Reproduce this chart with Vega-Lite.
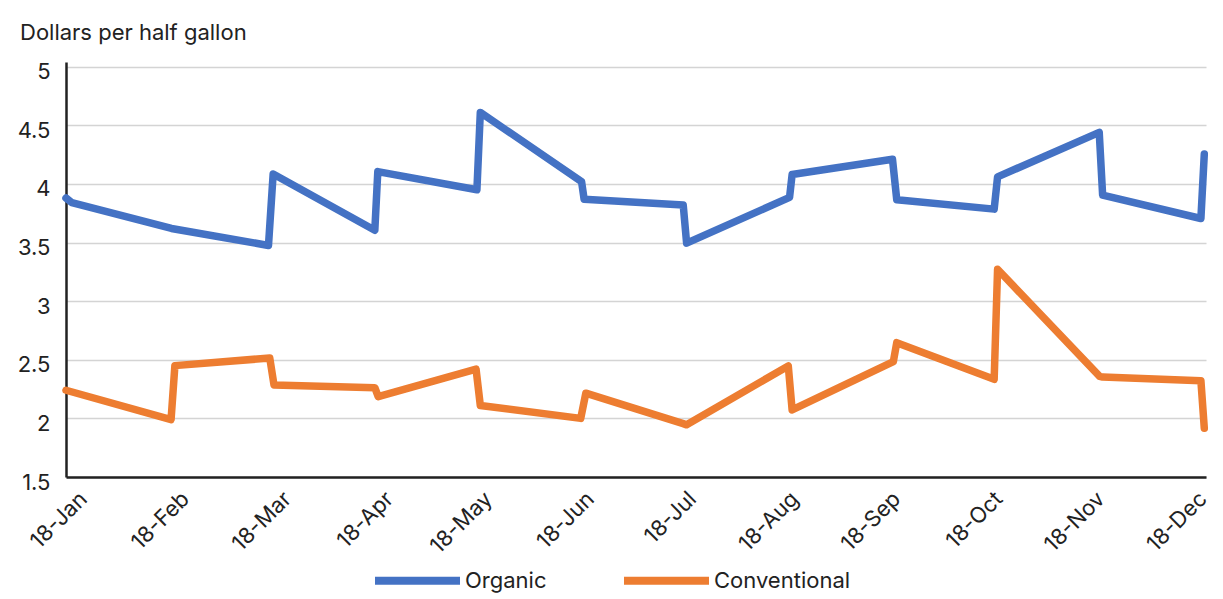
{
  "$schema": "https://vega.github.io/schema/vega-lite/v6.json",
  "width": 1140,
  "height": 415,
  "autosize": {"type": "none"},
  "padding": {"left": 66, "top": 62, "right": 17, "bottom": 122},
  "background": "white",
  "title": {
    "text": "Dollars per half gallon",
    "anchor": "start",
    "frame": "group",
    "dx": -46,
    "offset": -1,
    "baseline": "alphabetic",
    "font": "Inter",
    "fontSize": 22,
    "fontWeight": "normal",
    "color": "#222222"
  },
  "data": {
    "values": [
      {"series": "Organic", "date": "2018-01-01T00:00", "price": 3.88},
      {"series": "Organic", "date": "2018-01-02T17:00", "price": 3.84},
      {"series": "Organic", "date": "2018-02-01T00:00", "price": 3.62},
      {"series": "Organic", "date": "2018-03-01T12:00", "price": 3.475},
      {"series": "Organic", "date": "2018-03-02T21:00", "price": 4.085},
      {"series": "Organic", "date": "2018-04-01T18:00", "price": 3.605},
      {"series": "Organic", "date": "2018-04-02T15:00", "price": 4.105},
      {"series": "Organic", "date": "2018-05-01T18:00", "price": 3.95},
      {"series": "Organic", "date": "2018-05-02T18:00", "price": 4.61},
      {"series": "Organic", "date": "2018-06-01T12:00", "price": 4.02},
      {"series": "Organic", "date": "2018-06-02T06:00", "price": 3.87},
      {"series": "Organic", "date": "2018-07-01T09:00", "price": 3.82},
      {"series": "Organic", "date": "2018-07-02T09:00", "price": 3.495},
      {"series": "Organic", "date": "2018-08-01T15:00", "price": 3.885},
      {"series": "Organic", "date": "2018-08-02T09:00", "price": 4.08},
      {"series": "Organic", "date": "2018-08-31T21:00", "price": 4.21},
      {"series": "Organic", "date": "2018-09-02T03:00", "price": 3.865},
      {"series": "Organic", "date": "2018-09-30T18:00", "price": 3.785},
      {"series": "Organic", "date": "2018-10-01T18:00", "price": 4.06},
      {"series": "Organic", "date": "2018-10-31T15:00", "price": 4.44},
      {"series": "Organic", "date": "2018-11-01T15:00", "price": 3.905},
      {"series": "Organic", "date": "2018-11-30T12:00", "price": 3.705},
      {"series": "Organic", "date": "2018-12-01T12:00", "price": 4.255},
      {"series": "Conventional", "date": "2018-01-01T00:00", "price": 2.24},
      {"series": "Conventional", "date": "2018-01-31T21:00", "price": 1.99},
      {"series": "Conventional", "date": "2018-02-02T00:00", "price": 2.45},
      {"series": "Conventional", "date": "2018-03-01T21:00", "price": 2.515},
      {"series": "Conventional", "date": "2018-03-03T03:00", "price": 2.285},
      {"series": "Conventional", "date": "2018-04-01T18:00", "price": 2.262},
      {"series": "Conventional", "date": "2018-04-02T18:00", "price": 2.185},
      {"series": "Conventional", "date": "2018-05-01T12:00", "price": 2.42},
      {"series": "Conventional", "date": "2018-05-02T18:00", "price": 2.11},
      {"series": "Conventional", "date": "2018-06-01T06:00", "price": 2.0},
      {"series": "Conventional", "date": "2018-06-02T18:00", "price": 2.215},
      {"series": "Conventional", "date": "2018-07-01T09:00", "price": 1.955},
      {"series": "Conventional", "date": "2018-07-02T09:00", "price": 1.945},
      {"series": "Conventional", "date": "2018-08-01T06:00", "price": 2.447},
      {"series": "Conventional", "date": "2018-08-02T09:00", "price": 2.072},
      {"series": "Conventional", "date": "2018-09-01T03:00", "price": 2.484},
      {"series": "Conventional", "date": "2018-09-02T03:00", "price": 2.646},
      {"series": "Conventional", "date": "2018-09-30T18:00", "price": 2.333},
      {"series": "Conventional", "date": "2018-10-01T18:00", "price": 3.272},
      {"series": "Conventional", "date": "2018-10-31T18:00", "price": 2.358},
      {"series": "Conventional", "date": "2018-11-01T15:00", "price": 2.352},
      {"series": "Conventional", "date": "2018-11-30T12:00", "price": 2.322},
      {"series": "Conventional", "date": "2018-12-01T12:00", "price": 1.915}
    ]
  },
  "mark": {"type": "line", "strokeWidth": 7.5, "strokeCap": "round", "strokeJoin": "round"},
  "encoding": {
    "x": {
      "field": "date",
      "type": "temporal",
      "scale": {"domain": [{"year": 2018, "month": 1, "date": 1}, {"year": 2018, "month": 12, "date": 2}]},
      "axis": {
        "title": null,
        "values": [
          {"year": 2018, "month": 1, "date": 6},
          {"year": 2018, "month": 2, "date": 5},
          {"year": 2018, "month": 3, "date": 7},
          {"year": 2018, "month": 4, "date": 6},
          {"year": 2018, "month": 5, "date": 5},
          {"year": 2018, "month": 6, "date": 4},
          {"year": 2018, "month": 7, "date": 4},
          {"year": 2018, "month": 8, "date": 3},
          {"year": 2018, "month": 9, "date": 2},
          {"year": 2018, "month": 10, "date": 2},
          {"year": 2018, "month": 11, "date": 1},
          {"year": 2018, "month": 12, "date": 1}
        ],
        "format": "%y-%b",
        "labelAngle": -45,
        "labelAlign": "right",
        "labelBaseline": "middle",
        "labelPadding": 18,
        "labelOverlap": false,
        "labelFlush": false,
        "labelBound": false,
        "labelFont": "Inter",
        "labelFontSize": 22,
        "labelColor": "#222222",
        "ticks": false,
        "tickSize": 0,
        "grid": false,
        "domainColor": "#222222",
        "domainWidth": 2.5
      }
    },
    "y": {
      "field": "price",
      "type": "quantitative",
      "scale": {"domain": [1.5, 5.04], "nice": false, "zero": false},
      "axis": {
        "title": null,
        "values": [1.5, 2, 2.5, 3, 3.5, 4, 4.5, 5],
        "format": "~g",
        "labelPadding": 16,
        "labelOffset": 5,
        "labelBaseline": "middle",
        "labelFont": "Inter",
        "labelFontSize": 22,
        "labelColor": "#222222",
        "ticks": false,
        "tickSize": 0,
        "grid": true,
        "gridColor": "#d4d4d4",
        "gridWidth": 1.3,
        "domainColor": "#222222",
        "domainWidth": 2.5
      }
    },
    "color": {
      "field": "series",
      "type": "nominal",
      "scale": {"domain": ["Organic", "Conventional"], "range": ["#4472C4", "#ED7D31"]},
      "legend": {
        "title": null,
        "orient": "none",
        "direction": "horizontal",
        "legendX": 305,
        "legendY": 472,
        "symbolType": "stroke",
        "symbolSize": 7225,
        "symbolStrokeWidth": 8,
        "labelFont": "Inter",
        "labelFontSize": 22,
        "labelColor": "#222222",
        "labelOffset": 1,
        "columnPadding": 61
      }
    }
  },
  "config": {"view": {"stroke": null}}
}
